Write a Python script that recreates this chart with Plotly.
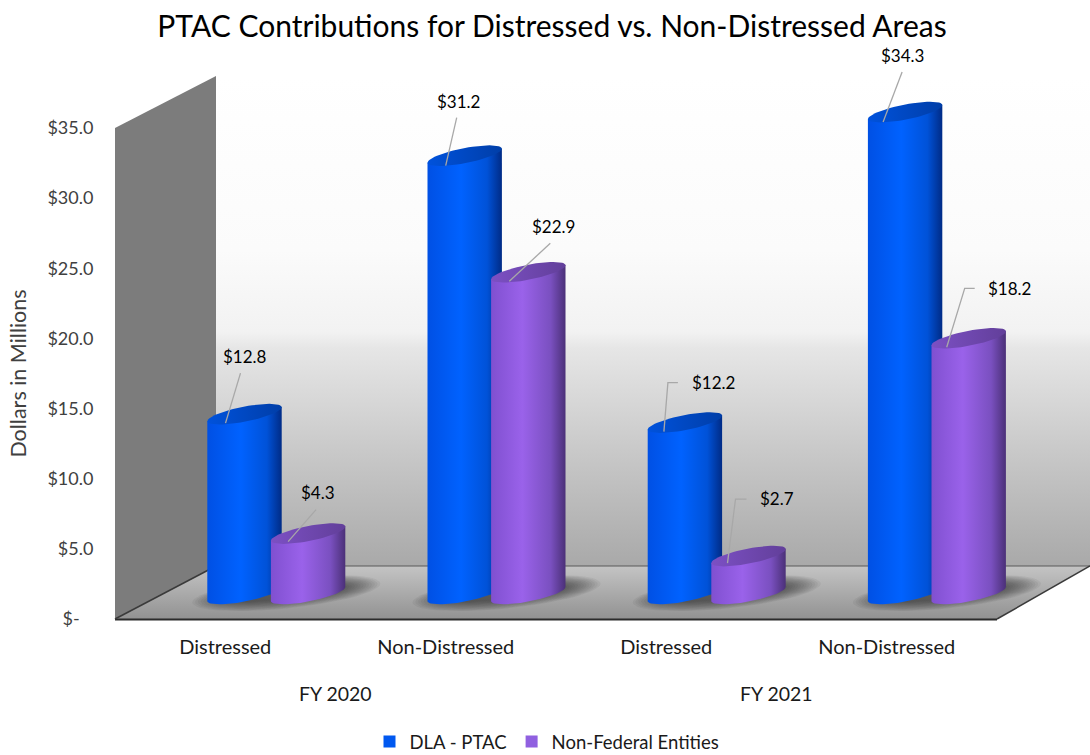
import numpy as np
import plotly.graph_objects as go

# ---- data ----
TITLE = "PTAC Contributions for Distressed vs. Non-Distressed Areas"
CATEGORIES = ["Distressed", "Non-Distressed", "Distressed", "Non-Distressed"]
FISCAL_YEARS = ["FY 2020", "FY 2021"]
DLA_PTAC = [12.8, 31.2, 12.2, 34.3]
NON_FEDERAL = [4.3, 22.9, 2.7, 18.2]
Y_TICKS = [0, 5, 10, 15, 20, 25, 30, 35]
Y_LABELS = ["$-\u00a0\u00a0\u00a0", "$5.0", "$10.0", "$15.0", "$20.0", "$25.0", "$30.0", "$35.0"]

# ---- layout constants (page pixels) ----
W, H = 1090, 755
FONT = "Lato"
PX_X = 220.2          # pixels per category
PX_Y = 14.05          # pixels per $M on the bar axis
GROUP0 = 276.3        # page x of first group centre
BASE = 594.0          # page y of value 0 on the bar axis
SHIFT = 31.8 / PX_X   # series offset from the group centre, category units
A, K, B = 37.2, 7.0, 7.6   # cap half width, tilt, half height (px)

BLUE = dict(bar="#0058f0", cap=[[0, "#0052dc"], [1, "#003ea8"]],
            body=[[0, "#0050e4"], [0.45, "#0062ff"], [0.8, "#0052d8"], [1, "#002b86"]])
PURPLE = dict(bar="#9060e0", cap=[[0, "#7c50c4"], [1, "#623f9a"]],
              body=[[0, "#8050d0"], [0.42, "#9a62ea"], [0.8, "#7a50c0"], [1, "#4b3078"]])

# leader points and label centre, as pixel offsets from the cap centre
LEADERS_DLA = [
    ([(-19, 9), (-4, -41)], (0, -58)),
    ([(-19, 10), (-8, -38)], (-6, -54)),
    ([(-21, 9), (-17, -40), (-7, -40)], (29, -40)),
    ([(-22, 10), (-3, -40)], (-3, -57)),
]
LEADERS_NF = [
    ([(-20, 8), (8, -24)], (10, -41)),
    ([(-19, 9), (22, -29)], (25, -46)),
    ([(-21, 7), (-13, -57), (-2, -57)], (28, -58)),
    ([(-22, 9), (-4, -50), (6, -50)], (41, -50)),
]


def dx(p):
    return p / PX_X


def dy(p):
    return -p / PX_Y


def ellipse(cx, cy, t):
    return cx + dx(A * np.cos(t)), cy + dy(-K * np.cos(t) + B * np.sin(t))


fig = go.Figure()

# ---- backdrop on a hidden page-pixel axis ----
bk = dict(xaxis="x", yaxis="y", mode="lines", fill="toself", showlegend=False, hoverinfo="skip")
wall_stops = [(76, "#ffffff"), (250, "#fbfbfb"), (332, "#f2f2f2"), (348, "#e6e6e6"),
              (450, "#c9c9c9"), (566, "#a9a9a9")]
fig.add_trace(go.Scatter(
    x=[216, 1090, 1090, 216, 216], y=[76, 76, 566, 566, 76], line=dict(width=0),
    fillgradient=dict(type="vertical", start=76, stop=566,
                      colorscale=[[(p - 76) / 490, c] for p, c in wall_stops]), **bk))
fig.add_trace(go.Scatter(
    x=[115, 216, 216, 115, 115], y=[128, 76, 568, 619, 128],
    line=dict(width=0), fillcolor="#7c7c7c", **bk))
fig.add_trace(go.Scatter(
    x=[115, 216, 1090, 997, 115], y=[619, 566, 566, 619, 619], line=dict(width=0),
    fillgradient=dict(type="vertical", start=566, stop=619,
                      colorscale=[[0, "#c4c4c4"], [1, "#929292"]]), **bk))
for xs, ys, col, wid in [([216, 1090], [566, 566], "#5a5a5a", 1.2),
                         ([115, 997], [619.5, 619.5], "#2b2b2b", 2.2),
                         ([115, 216], [619, 566], "#3a3a3a", 1.5),
                         ([997, 1090], [619, 566], "#3a3a3a", 1.5)]:
    fig.add_trace(go.Scatter(x=xs, y=ys, xaxis="x", yaxis="y", mode="lines",
                             line=dict(color=col, width=wid),
                             showlegend=False, hoverinfo="skip"))

# ---- tick axes: one invisible trace so the axes exist ----
fig.add_trace(go.Scatter(x=list(range(len(CATEGORIES))), y=DLA_PTAC, xaxis="x2", yaxis="y2",
                         mode="markers", marker=dict(opacity=0), showlegend=False, hoverinfo="skip"))

# ---- floor shadows: soft tilted ellipses ----
idx = np.arange(len(CATEGORIES))
t_full = np.linspace(0, 2 * np.pi, 61)
for i in idx:
    for j in range(14):
        w = 94 - 2.8 * j
        h = 15.5 - 0.7 * j
        px = 10 + w * np.cos(t_full)
        py = -1 - 0.10 * w * np.cos(t_full) + h * np.sin(t_full)
        fig.add_trace(go.Scatter(
            x=i + dx(px), y=dy(py),
            xaxis="x3", yaxis="y3", mode="lines", line=dict(width=0), fill="toself",
            fillcolor="rgba(40,40,40,0.06)", showlegend=False, hoverinfo="skip"))

# ---- the series as bars (legend + core of each cylinder) ----
for name, vals, sty, off in [("DLA - PTAC", DLA_PTAC, BLUE, -SHIFT),
                             ("Non-Federal Entities", NON_FEDERAL, PURPLE, SHIFT)]:
    fig.add_trace(go.Bar(x=idx, y=vals, name=name, xaxis="x3", yaxis="y3",
                         width=0.2, offset=off - 0.1, marker=dict(color=sty["bar"], line=dict(width=0))))

# ---- cylinder shading drawn from the same values ----
t_low = np.linspace(0, np.pi, 31)
for i in idx:
    for vals, sty, off in [(DLA_PTAC, BLUE, -SHIFT), (NON_FEDERAL, PURPLE, SHIFT)]:
        cx, v = i + off, vals[i]
        bx, by = ellipse(cx, 0, t_low)
        rx, ry = cx + dx(A), v + dy(-K)
        lx, ly = cx - dx(A), v + dy(K)
        common = dict(xaxis="x3", yaxis="y3", mode="lines", line=dict(width=0),
                      fill="toself", showlegend=False, hoverinfo="skip")
        fig.add_trace(go.Scatter(
            x=[lx, rx, *bx, lx], y=[ly, ry, *by, ly],
            fillgradient=dict(type="horizontal", start=cx - dx(A), stop=cx + dx(A),
                              colorscale=sty["body"]), **common))
        tx, ty = ellipse(cx, v, t_full)
        fig.add_trace(go.Scatter(
            x=tx, y=ty,
            fillgradient=dict(type="horizontal", start=cx - dx(A), stop=cx + dx(A),
                              colorscale=sty["cap"]), **common))

# ---- value labels with leader lines ----
annotations = []
for vals, leaders, off in [(DLA_PTAC, LEADERS_DLA, -SHIFT), (NON_FEDERAL, LEADERS_NF, SHIFT)]:
    for i, v in enumerate(vals):
        pts, lab = leaders[i]
        fig.add_trace(go.Scatter(
            x=[i + off + dx(p[0]) for p in pts], y=[v + dy(p[1]) for p in pts],
            xaxis="x3", yaxis="y3", mode="lines", line=dict(color="#a8a8a8", width=1.3),
            showlegend=False, hoverinfo="skip"))
        annotations.append(dict(x=i + off, y=v, xref="x3", yref="y3", xshift=lab[0], yshift=-lab[1],
                                text=f"${v:.1f}", showarrow=False,
                                font=dict(family=FONT, size=17, color="#000000")))

for k, fy in enumerate(FISCAL_YEARS):
    annotations.append(dict(x=0.5 + 2 * k, y=1 - 693 / H, xref="x2", yref="paper", yanchor="middle",
                            text=fy, showarrow=False,
                            font=dict(family=FONT, size=19.5, color="#1a1a1a")))

hidden = dict(visible=False, showgrid=False, zeroline=False, fixedrange=True)
fig.update_layout(
    width=W, height=H, margin=dict(l=0, r=0, t=0, b=0, autoexpand=False),
    paper_bgcolor="#ffffff", plot_bgcolor="rgba(0,0,0,0)",
    barmode="overlay",
    title=dict(text=TITLE, x=552 / W, xanchor="center", y=1 - 26 / H, yanchor="middle",
               font=dict(family=FONT, size=30, color="#000000")),
    xaxis=dict(domain=[0, 1], range=[0, W], **hidden),
    yaxis=dict(domain=[0, 1], range=[H, 0], **hidden),
    xaxis2=dict(domain=[115 / W, 997 / W], range=[-0.5, 3.5], anchor="y2",
                tickmode="array", tickvals=list(idx), ticktext=CATEGORIES,
                showgrid=False, zeroline=False, showline=False, ticks="outside",
                ticklen=10, tickcolor="rgba(0,0,0,0)", fixedrange=True,
                tickfont=dict(family=FONT, size=20, color="#1a1a1a")),
    yaxis2=dict(domain=[1 - 619 / H, 1 - 128 / H], range=[0, 35], anchor="x2",
                tickmode="array", tickvals=Y_TICKS, ticktext=Y_LABELS,
                showgrid=False, zeroline=False, showline=False, ticks="outside",
                ticklen=17, tickcolor="rgba(0,0,0,0)", fixedrange=True,
                tickfont=dict(family=FONT, size=18, color="#404040"),
                title=dict(text="Dollars in Millions", standoff=14,
                           font=dict(family=FONT, size=21.5, color="#404040"))),
    xaxis3=dict(domain=[0, 1], range=[-GROUP0 / PX_X, (W - GROUP0) / PX_X], anchor="y3", **hidden),
    yaxis3=dict(domain=[1 - 630 / H, 1 - 50 / H], range=[(BASE - 630) / PX_Y, (BASE - 50) / PX_Y],
                anchor="x3", **hidden),
    legend=dict(orientation="h", x=547 / W, xanchor="center", y=1 - 742 / H, yanchor="middle",
                font=dict(family=FONT, size=18.5, color="#1a1a1a"), bgcolor="rgba(0,0,0,0)"),
    annotations=annotations,
)

fig.write_html("out.html", config=dict(displayModeBar=False),
               post_script="document.body.style.margin='0';")
